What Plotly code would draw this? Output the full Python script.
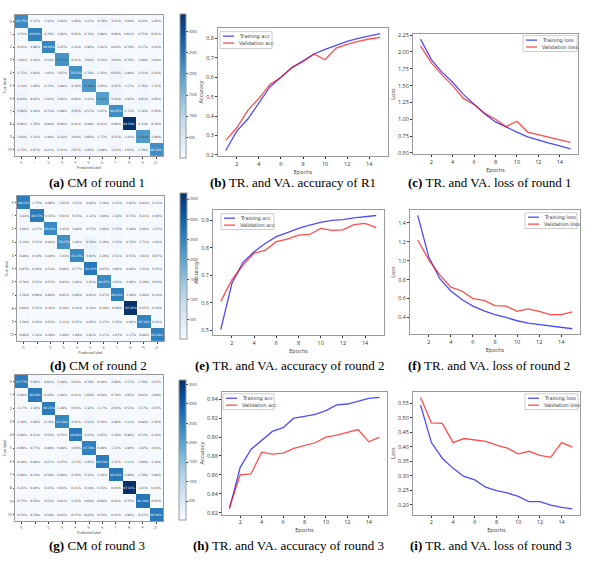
import plotly.graph_objects as go

W, H = 600, 564
epochs = list(range(1, 16))

# ---- training curves ----
r1_train_acc = [0.223, 0.323, 0.385, 0.47, 0.55, 0.60, 0.65, 0.685, 0.72, 0.744, 0.765, 0.785, 0.80, 0.812, 0.825]
r1_val_acc = [0.275, 0.34, 0.43, 0.49, 0.563, 0.60, 0.65, 0.68, 0.72, 0.69, 0.75, 0.77, 0.785, 0.797, 0.805]
r1_train_loss = [2.19, 1.89, 1.70, 1.55, 1.37, 1.22, 1.08, 0.96, 0.88, 0.81, 0.74, 0.69, 0.645, 0.605, 0.56]
r1_val_loss = [2.09, 1.84, 1.66, 1.50, 1.31, 1.22, 1.09, 1.00, 0.89, 0.97, 0.81, 0.77, 0.73, 0.69, 0.655]

r2_train_acc = [0.502, 0.67, 0.747, 0.785, 0.815, 0.84, 0.855, 0.87, 0.882, 0.892, 0.899, 0.902, 0.908, 0.912, 0.917]
r2_val_acc = [0.605, 0.683, 0.737, 0.78, 0.79, 0.822, 0.831, 0.846, 0.848, 0.87, 0.863, 0.865, 0.884, 0.888, 0.873]
r2_train_loss = [1.48, 1.04, 0.81, 0.68, 0.59, 0.52, 0.47, 0.43, 0.40, 0.365, 0.34, 0.325, 0.305, 0.29, 0.28]
r2_val_loss = [1.22, 1.01, 0.85, 0.72, 0.68, 0.60, 0.58, 0.525, 0.52, 0.465, 0.49, 0.465, 0.43, 0.43, 0.46]

r3_train_acc = [0.824, 0.868, 0.887, 0.897, 0.906, 0.910, 0.920, 0.922, 0.924, 0.928, 0.934, 0.935, 0.938, 0.941, 0.942]
r3_val_acc = [0.826, 0.860, 0.861, 0.884, 0.882, 0.883, 0.888, 0.891, 0.894, 0.900, 0.902, 0.905, 0.908, 0.895, 0.900]
r3_train_loss = [0.543, 0.414, 0.36, 0.325, 0.297, 0.285, 0.26, 0.248, 0.24, 0.228, 0.21, 0.21, 0.198, 0.19, 0.185]
r3_val_loss = [0.57, 0.482, 0.48, 0.414, 0.428, 0.424, 0.418, 0.405, 0.395, 0.375, 0.384, 0.37, 0.363, 0.414, 0.398]

# ---- confusion matrices (row-normalised %, rows = true label) ----
classes = [str(i) for i in range(11)]
cm1_pct = [
    [81.75, 1.27, 1.41, 1.82, 1.80, 1.47, 4.79, 3.21, 1.08, 0.22, 1.85],
    [2.53, 89.81, 0.76, 1.02, 0.56, 0.78, 1.98, 0.80, 0.61, 0.75, 0.91],
    [0.45, 2.96, 86.04, 2.07, 1.22, 1.96, 1.42, 0.83, 0.70, 0.17, 1.03],
    [1.64, 2.16, 2.54, 77.51, 2.21, 3.68, 2.52, 3.64, 0.70, 1.60, 1.84],
    [2.77, 1.64, 1.05, 3.67, 78.15, 2.76, 1.35, 6.62, 1.99, 2.51, 2.43],
    [3.12, 1.09, 0.72, 3.88, 4.30, 75.46, 1.65, 4.33, 1.17, 2.76, 1.52],
    [6.03, 0.93, 1.02, 2.92, 0.80, 1.43, 73.80, 5.43, 1.92, 4.81, 1.60],
    [5.60, 2.10, 0.71, 1.89, 5.05, 2.57, 1.07, 80.25, 1.72, 2.16, 2.58],
    [0.60, 1.76, 0.80, 0.60, 0.41, 0.49, 0.41, 0.80, 94.59, 0.33, 0.30],
    [3.02, 1.31, 1.40, 4.31, 3.04, 2.66, 1.77, 4.31, 1.41, 75.08, 1.96],
    [1.73, 2.07, 0.23, 2.51, 2.67, 2.06, 1.09, 3.23, 1.63, 3.70, 80.18],
]
cm2_pct = [
    [88.21, 1.75, 0.96, 1.61, 1.52, 0.84, 1.16, 2.15, 1.01, 0.84, 0.33],
    [2.84, 90.57, 0.45, 0.61, 0.74, 1.12, 1.80, 1.30, 0.74, 0.21, 0.40],
    [2.00, 1.17, 85.65, 1.41, 1.88, 0.57, 1.80, 2.72, 1.20, 2.00, 1.27],
    [2.14, 0.33, 0.88, 79.27, 1.88, 6.50, 2.16, 3.72, 0.70, 1.71, 1.02],
    [0.88, 0.19, 0.46, 1.51, 85.27, 5.01, 1.26, 2.51, 0.53, 1.61, 0.67],
    [0.97, 0.20, 0.52, 0.88, 0.77, 91.25, 0.87, 1.60, 0.80, 1.51, 0.35],
    [0.78, 0.52, 0.52, 0.93, 1.88, 1.83, 84.47, 1.64, 1.60, 3.19, 0.83],
    [1.50, 0.99, 0.68, 0.61, 2.68, 0.63, 2.47, 88.63, 1.09, 1.60, 0.14],
    [0.68, 0.35, 0.30, 0.10, 0.32, 0.34, 0.19, 0.69, 95.95, 0.25, 0.16],
    [1.50, 0.16, 0.54, 1.11, 0.55, 0.65, 1.17, 2.16, 1.60, 85.18, 0.45],
    [0.96, 1.34, 0.29, 1.09, 1.09, 1.62, 1.17, 1.87, 1.17, 0.86, 88.28],
]
cm3_pct = [
    [87.77, 3.60, 0.62, 3.49, 0.61, 0.70, 0.19, 1.60, 1.57, 1.79, 1.07],
    [0.60, 90.20, 0.26, 1.40, 0.41, 1.60, 0.58, 0.74, 1.95, 0.82, 1.09],
    [1.17, 1.38, 90.25, 1.29, 0.03, 1.42, 1.17, 2.50, 0.52, 3.17, 1.07],
    [1.20, 1.60, 0.70, 83.18, 2.01, 3.52, 0.56, 1.80, 1.12, 0.88, 1.56],
    [0.60, 0.51, 0.54, 0.55, 88.80, 2.23, 1.03, 1.30, 0.96, 0.74, 2.10],
    [0.66, 0.77, 0.49, 0.88, 1.60, 87.78, 0.49, 1.72, 1.80, 1.97, 1.01],
    [0.19, 0.98, 0.47, 3.47, 1.57, 1.95, 89.53, 1.52, 1.13, 1.60, 1.18],
    [0.60, 0.14, 0.39, 0.60, 2.16, 2.32, 1.10, 90.42, 1.99, 1.79, 1.08],
    [0.23, 0.20, 0.33, 0.03, 0.21, 0.19, 0.33, 0.46, 97.41, 1.01, 0.22],
    [0.77, 0.59, 0.53, 0.81, 1.33, 0.60, 0.60, 0.81, 0.75, 91.28, 0.65],
    [0.53, 0.79, 0.19, 0.83, 0.47, 0.83, 0.53, 0.33, 1.90, 0.47, 90.40],
]
# samples per true class (used for the count colour scale)
support1 = [2700, 2600, 2650, 2700, 2750, 2680, 2600, 2700, 3600, 2650, 2700]
support2 = [2900, 2850, 2800, 2900, 2850, 2900, 2800, 2850, 3800, 2900, 2850]
support3 = [2900, 2850, 2850, 2900, 2900, 2850, 2850, 2900, 3700, 2900, 2850]

captions = [
    ("(a)", "CM of round 1"), ("(b)", "TR. and VA. accuracy of R1"), ("(c)", "TR. and VA. loss of round 1"),
    ("(d)", "CM of round 2"), ("(e)", "TR. and VA. accuracy of round 2"), ("(f)", "TR. and VA. loss of round 2"),
    ("(g)", "CM of round 3"), ("(h)", "TR. and VA. accuracy of round 3"), ("(i)", "TR. and VA. loss of round 3"),
]

# ---------------- layout helpers (pixel boxes) ----------------
def px(x):
    return x / W

def py(y):
    return 1 - y / H

def xd(x0, x1):
    return [px(x0), px(x1)]

def yd(y0, y1):
    return [py(y1), py(y0)]

fig = go.Figure()
layout = dict(width=W, height=H, margin=dict(l=0, r=0, t=0, b=0),
              paper_bgcolor="white", plot_bgcolor="white", showlegend=False)

FRAME = "#9a9a9a"
TICKC = "#333333"
shapes = []
annots = []

# CM panels: (pct, support, heat box, colorbar box)
cm_panels = [
    (cm1_pct, support1, (15, 163, 12, 155), (180, 186, 13, 157)),
    (cm2_pct, support2, (17, 164, 195, 342), (180, 187, 194, 340)),
    (cm3_pct, support3, (15, 163, 376, 524), (179, 186, 383, 523)),
]
ax = 0
for pct, sup, (hx0, hx1, hy0, hy1), (cx0, cx1, cy0, cy1) in cm_panels:
    ax += 1
    sfx = "" if ax == 1 else str(ax)
    counts = [[p * s / 100.0 for p in row] for row, s in zip(pct, sup)]
    text = [[f"{p:.2f}%" for p in row] for row in pct]
    fig.add_trace(go.Heatmap(
        z=counts, x=classes, y=classes, text=text, texttemplate="%{text}",
        textfont=dict(size=3, family="DejaVu Sans"),
        colorscale="Blues", zmin=min(min(r) for r in counts),
        xaxis="x" + sfx, yaxis="y" + sfx, showlegend=False,
        colorbar=dict(x=px(cx0), xanchor="left", y=py(cy1), yanchor="bottom",
                      len=(cy1 - cy0), lenmode="pixels", thickness=cx1 - cx0,
                      thicknessmode="pixels", xpad=0, ypad=0, outlinecolor=FRAME,
                      outlinewidth=1, ticks="outside", ticklen=2, dtick=500,
                      tickfont=dict(size=3.5, color=TICKC)),
    ))
    layout["xaxis" + sfx] = dict(domain=xd(hx0, hx1), anchor="y" + sfx, type="category",
                                 showline=True, mirror=True, linecolor=FRAME, linewidth=1,
                                 ticks="outside", ticklen=1.5, tickangle=-45,
                                 tickfont=dict(size=3.5, color=TICKC),
                                 title=dict(text="Predicted label", font=dict(size=3.5, color=TICKC), standoff=0))
    layout["yaxis" + sfx] = dict(domain=yd(hy0, hy1), anchor="x" + sfx, type="category",
                                 autorange="reversed", showline=True, mirror=True,
                                 linecolor=FRAME, linewidth=1, ticks="outside", ticklen=1.5,
                                 tickfont=dict(size=3.5, color=TICKC),
                                 title=dict(text="True label", font=dict(size=3.5, color=TICKC), standoff=1))

# line panels: (train, val, kind, plot box, y tick step, y tick format, legend box)
line_panels = [
    (r1_train_acc, r1_val_acc, "acc", (218, 388, 25, 155), 0.1, ".1f", (220, 272, 29, 46)),
    (r1_train_loss, r1_val_loss, "loss", (413, 578, 31, 153), 0.25, ".2f", (523, 577, 33, 49)),
    (r2_train_acc, r2_val_acc, "acc", (213, 384, 209, 336), 0.1, ".1f", (221, 274, 213, 229)),
    (r2_train_loss, r2_val_loss, "loss", (410, 580, 209, 335), 0.2, ".1f", (525, 577, 212, 228)),
    (r3_train_acc, r3_val_acc, "acc", (222, 387, 393, 517), 0.02, ".2f", (223, 274, 395, 411)),
    (r3_train_loss, r3_val_loss, "loss", (413, 580, 393, 517), 0.05, ".2f", (525, 578, 395, 411)),
]
BLUE = "rgba(0,0,255,0.7)"
RED = "rgba(255,0,0,0.7)"
for tr, va, kind, (x0, x1, y0, y1), dt, tf, (bx0, bx1, by0, by1) in line_panels:
    ax += 1
    sfx = str(ax)
    word = "acc" if kind == "acc" else "loss"
    names = [f"Training {word}", f"Validation {word}"]
    fig.add_trace(go.Scatter(x=epochs, y=tr, mode="lines", name=names[0],
                             line=dict(color=BLUE, width=1.3), xaxis="x" + sfx, yaxis="y" + sfx))
    fig.add_trace(go.Scatter(x=epochs, y=va, mode="lines", name=names[1],
                             line=dict(color=RED, width=1.3), xaxis="x" + sfx, yaxis="y" + sfx))
    lo = min(min(tr), min(va)); hi = max(max(tr), max(va))
    pad = 0.05 * (hi - lo)
    layout["xaxis" + sfx] = dict(domain=xd(x0, x1), anchor="y" + sfx, range=[0.3, 15.7],
                                 tickvals=[2, 4, 6, 8, 10, 12, 14], showgrid=False, zeroline=False,
                                 showline=True, mirror=True, linecolor=FRAME, linewidth=1,
                                 ticks="outside", ticklen=2, tickcolor=TICKC,
                                 tickfont=dict(size=5.5, color=TICKC),
                                 title=dict(text="Epochs", font=dict(size=5.5, color=TICKC), standoff=1))
    layout["yaxis" + sfx] = dict(domain=yd(y0, y1), anchor="x" + sfx, range=[lo - pad, hi + pad],
                                 dtick=dt, tickformat=tf,
                                 showgrid=False, zeroline=False,
                                 showline=True, mirror=True, linecolor=FRAME, linewidth=1,
                                 ticks="outside", ticklen=2, tickcolor=TICKC,
                                 tickfont=dict(size=5.5, color=TICKC),
                                 title=dict(text="Accuracy" if kind == "acc" else "Loss",
                                            font=dict(size=5.5, color=TICKC), standoff=2))
    # matplotlib-style compact legend box
    shapes.append(dict(type="rect", xref="paper", yref="paper", x0=px(bx0), x1=px(bx1),
                       y0=py(by1), y1=py(by0), line=dict(color="#cccccc", width=1),
                       fillcolor="rgba(255,255,255,0.9)"))
    for k, (nm, col) in enumerate(zip(names, [BLUE, RED])):
        ey = by0 + 4.5 + k * 7
        shapes.append(dict(type="line", xref="paper", yref="paper", x0=px(bx0 + 3), x1=px(bx0 + 14),
                           y0=py(ey), y1=py(ey), line=dict(color=col, width=1.3)))
        annots.append(dict(text=nm, x=px(bx0 + 16.5), y=py(ey), xref="paper", yref="paper",
                           xanchor="left", yanchor="middle", showarrow=False,
                           font=dict(size=5, color=TICKC, family="DejaVu Sans")))

# captions
cap_pos = [(97, 181), (293, 181), (490, 181),
           (98, 366), (290, 366), (489, 366),
           (97, 548), (288, 548), (490, 548)]
for (lab, txt), (cx, cy) in zip(captions, cap_pos):
    annots.append(dict(text=f"<b>{lab}</b> {txt}", x=px(cx), y=py(cy), xref="paper", yref="paper",
                       xanchor="center", yanchor="middle", showarrow=False,
                       font=dict(family="Liberation Serif", size=13, color="black")))
layout["annotations"] = annots
layout["shapes"] = shapes

fig.update_layout(**layout)
fig.write_html("out.html", config={"displayModeBar": False},
               post_script="document.body.style.margin='0';document.body.style.overflow='hidden';")
